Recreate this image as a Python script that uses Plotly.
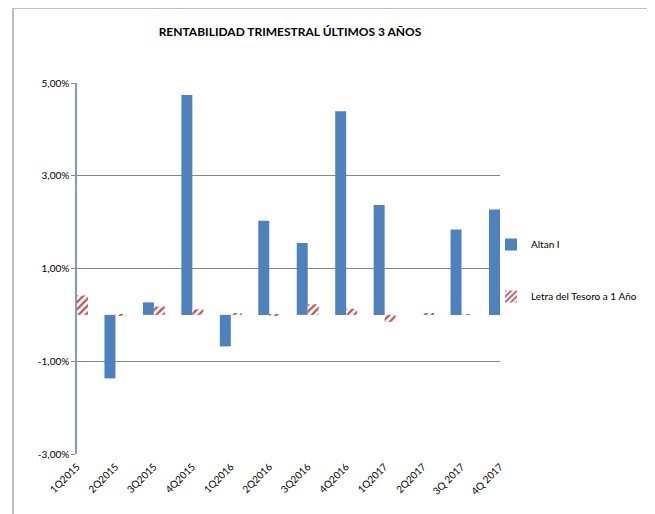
import plotly.graph_objects as go

categories = ["1Q2015", "2Q2015", "3Q2015", "4Q2015", "1Q2016", "2Q2016",
              "3Q2016", "4Q2016", "1Q2017", "2Q2017", "3Q 2017", "4Q 2017"]
altan = [None, -1.37, 0.27, 4.74, -0.68, 2.03, 1.55, 4.39, 2.37, 0.0, 1.84, 2.27]
letra = [0.42, -0.02, 0.18, 0.12, 0.02, -0.02, 0.23, 0.13, -0.15, 0.03, 0.01, 0.11]
ytick_vals = [-3, -1, 1, 3, 5]
ytick_text = ["-3,00%", "-1,00%", "1,00%", "3,00%", "5,00%"]

FONT = "Lato, 'Open Sans', sans-serif"
BLUE = "#4F81BD"
RED = "#C0504D"
GRID = "#868686"

# page body has an 8px margin: the figure is shrunk so the plot lands in place
W, H = 647, 506
L, R, T, B = 69, 155, 75, 60
PW = W - L - R
PH = H - T - B

fig = go.Figure()
fig.add_trace(go.Bar(
    x=categories, y=altan, name="Altan I", legendgroup="a",
    marker=dict(color=BLUE, line=dict(width=0)),
))
fig.add_trace(go.Bar(
    x=categories, y=letra, name="Letra del Tesoro a 1 Año", legendgroup="b",
    marker=dict(color=RED, line=dict(width=0),
                pattern=dict(shape="/", fgcolor=RED, bgcolor="white",
                             size=5, solidity=0.45, fillmode="replace")),
))

fig.update_layout(
    width=W, height=H,
    margin=dict(l=L, r=R, t=T, b=B, autoexpand=False),
    paper_bgcolor="white", plot_bgcolor="white",
    separators=",.",
    barmode="group", bargap=0.4286, bargroupgap=0,
    font=dict(family=FONT, size=10, color="#000000"),
    title=dict(text="<b>RENTABILIDAD TRIMESTRAL ÚLTIMOS 3 AÑOS</b>",
               x=282 / W, xanchor="center", y=1 - 24 / H, yanchor="middle",
               font=dict(family=FONT, size=12, color="#000000")),
    showlegend=True,
    legend=dict(x=(491 - 77) / PW, xanchor="left", y=(454 - 230) / PH, yanchor="top",
                traceorder="grouped", tracegroupgap=33,
                font=dict(family=FONT, size=10), bgcolor="rgba(0,0,0,0)"),
    xaxis=dict(
        type="category", range=[0, 11], showgrid=False, zeroline=False,
        showline=False, ticks="", tickangle=-45,
        tickfont=dict(family=FONT, size=10), ticklabelstandoff=4,
    ),
    xaxis2=dict(
        type="category", overlaying="x", matches="x", anchor="free",
        position=3 / 8, side="bottom", showticklabels=False,
        showline=True, linecolor=GRID, linewidth=1,
        ticks="outside", ticklen=4, tickcolor=GRID, showgrid=False,
    ),
    yaxis=dict(
        range=[-3, 5], tickvals=ytick_vals, ticktext=ytick_text,
        showgrid=True, gridcolor=GRID, gridwidth=1, zeroline=False,
        showline=True, linecolor="#7F9CC8", linewidth=1.5,
        ticks="outside", ticklen=4, tickcolor=GRID,
        tickfont=dict(family=FONT, size=10),
    ),
    shapes=[dict(type="rect", xref="paper", yref="paper",
                 x0=(13 - 77) / PW, x1=(650 - 77) / PW,
                 y0=-0.3, y1=(454 - 8) / PH,
                 line=dict(color="#BFBFBF", width=2), fillcolor="rgba(0,0,0,0)",
                 layer="below")],
)

fig.write_html("out.html")
